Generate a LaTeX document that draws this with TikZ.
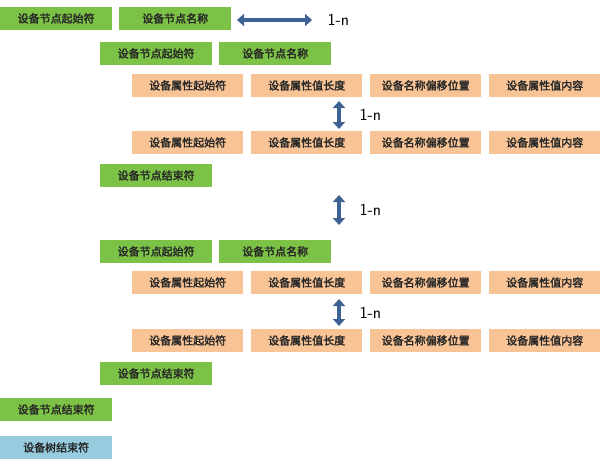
\documentclass[tikz,border=0pt]{standalone}
\usepackage{fontspec}
\newfontfamily\cjk[FakeBold=2]{Noto Sans CJK SC}
\usetikzlibrary{arrows.meta,positioning}
\definecolor{GG}{RGB}{124,194,70}
\definecolor{OO}{RGB}{248,196,150}
\definecolor{BB}{RGB}{150,204,222}
\definecolor{AA}{RGB}{62,98,148}
\tikzset{
    nodebox/.style={rectangle, anchor=north west, minimum width=112pt, minimum height=22.5pt, inner sep=0pt, fill=GG, font=\cjk\fontsize{11}{13}\selectfont, text=black!85},
    attrbox/.style={nodebox, fill=OO, minimum width=111pt},
    treebox/.style={nodebox, fill=BB},
    dblarrow/.style={AA, line width=4.5pt, {Triangle[length=7pt,width=12pt]}-{Triangle[length=7pt,width=12pt]}},
    mult/.style={font=\fontsize{17}{19}\selectfont\sffamily},
}
\begin{document}
\begin{tikzpicture}[x=1pt,y=-1pt]
\useasboundingbox (0,0) rectangle (600,461);

% device node level 1
\node[nodebox] (s1) at (0,7) {设备节点起始符};
\node[nodebox] (n1) at (119,7) {设备节点名称};
\coordinate (a1) at (237,20); \coordinate (b1) at (312,20);
\draw[dblarrow] (a1) -- (b1);
\node[mult, anchor=west] (m1) at (324,20) {1-n};

% child nodes
\foreach \i/\y in {2/42,6/240} {
  \node[nodebox] (s\i) at (100,\y) {设备节点起始符};
  \node[nodebox] (n\i) at (219,\y) {设备节点名称};
}

% properties
\foreach \r/\y in {3/74,4/131,7/271,8/329} {
  \node[attrbox] (p\r a) at (132,\y) {设备属性起始符};
  \node[attrbox] (p\r b) at (251,\y) {设备属性值长度};
  \node[attrbox] (p\r c) at (370,\y) {设备名称偏移位置};
  \node[attrbox] (p\r d) at (489,\y) {设备属性值内容};
}

% end of child nodes
\node[nodebox] (e5) at (100,164) {设备节点结束符};
\node[nodebox] (e9) at (100,362) {设备节点结束符};
\node[nodebox] (e10) at (0,398) {设备节点结束符};
\node[treebox] (t11) at (0,436) {设备树结束符};

% multiplicity arrows
\foreach \k/\ya/\yb in {1/101/129,2/195/225,3/299/326} {
  \coordinate (u\k) at (339,\ya); \coordinate (v\k) at (339,\yb);
  \draw[dblarrow] (u\k) -- (v\k);
  \node[mult, anchor=west] (mv\k) at (356,{(\ya+\yb)/2}) {1-n};
}
\end{tikzpicture}
\end{document}
